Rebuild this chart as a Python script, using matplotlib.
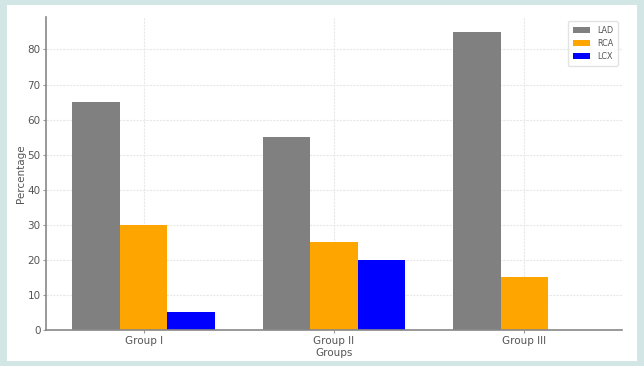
import matplotlib.pyplot as plt
import numpy as np
from matplotlib.patches import Rectangle

groups = ["Group I", "Group II", "Group III"]
lad = [65, 55, 85]
rca = [30, 25, 15]
lcx = [5, 20, 0]

fig = plt.figure(figsize=(6.44, 3.66), dpi=100)
fig.patch.set_facecolor("#d3e6e6")
# white card inside the teal frame
fig.patches.append(Rectangle((7 / 644, 5 / 366), 630 / 644, 356 / 366,
                             transform=fig.transFigure, facecolor="white",
                             edgecolor="none", zorder=-5))

ax = fig.add_axes([46 / 644, 36 / 366, 576 / 644, 313 / 366])
ax.set_facecolor("white")

x = np.arange(len(groups))
w = 0.25
ax.bar(x - w, lad, w, color="gray", label="LAD", zorder=2)
ax.bar(x, rca, w, color="orange", label="RCA", zorder=2)
ax.bar(x + w, lcx, w, color="blue", label="LCX", zorder=2)

ax.set_xticks(x)
ax.set_xticklabels(groups)
ax.set_xlabel("Groups", fontsize=7.5, color="#555555", labelpad=2)
ax.set_ylabel("Percentage", fontsize=7.5, color="#555555", labelpad=1)
ax.tick_params(labelsize=7.5, colors="#555555", length=2, pad=2)
ax.tick_params(axis="both", color="#999999")

ax.grid(True, color="#e8e8e8", linestyle=(0, (2, 1)), linewidth=0.8, zorder=0)
for s in ["top", "right"]:
    ax.spines[s].set_visible(False)
for s in ["left", "bottom"]:
    ax.spines[s].set_color("#888888")
    ax.spines[s].set_linewidth(1.2)

leg = ax.legend(loc="upper right", fontsize=5.8, frameon=True, borderpad=0.6,
                handlelength=2.2, labelspacing=0.5)
leg.get_frame().set_edgecolor("#dddddd")
for t in leg.get_texts():
    t.set_color("#555555")

plt.savefig("out.png", dpi=100, facecolor=fig.get_facecolor())
